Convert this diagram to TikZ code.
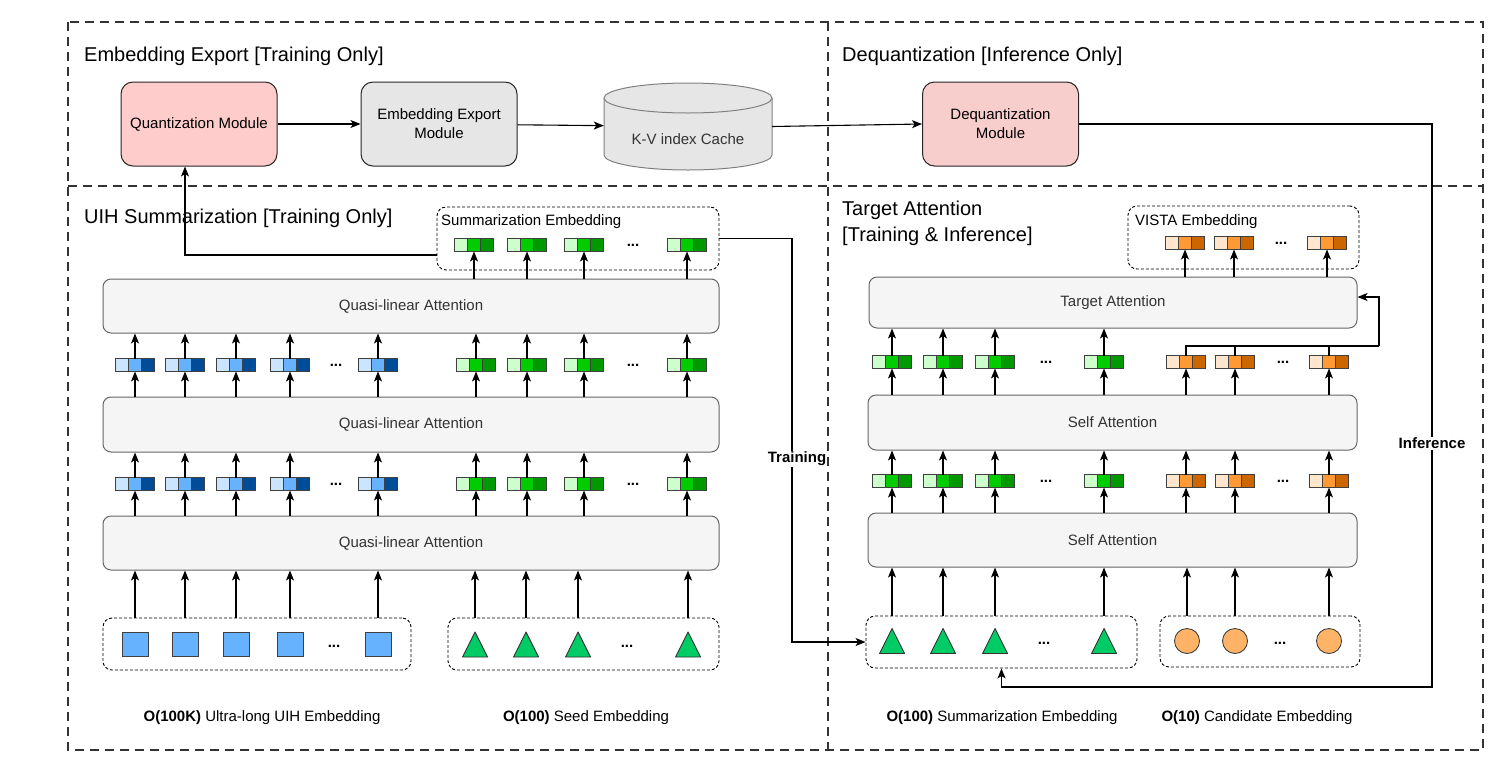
\documentclass[tikz,border=0pt]{standalone}
\usepackage{fontspec}
\setmainfont{Liberation Sans}
\usetikzlibrary{arrows.meta}
\definecolor{blueL}{HTML}{CCE5FF}
\definecolor{blueM}{HTML}{66B2FF}
\definecolor{blueD}{HTML}{004C99}
\definecolor{greenL}{HTML}{CCFFCC}
\definecolor{greenM}{HTML}{00CC00}
\definecolor{greenD}{HTML}{009900}
\definecolor{orangeL}{HTML}{FFE6CC}
\definecolor{orangeM}{HTML}{FF9933}
\definecolor{orangeD}{HTML}{CC6600}
\definecolor{pinkQ}{HTML}{FFCCCC}
\definecolor{pinkD}{HTML}{F8CECC}
\definecolor{greyBox}{HTML}{E6E6E6}
\definecolor{attFill}{HTML}{F5F5F5}
\definecolor{attLine}{HTML}{666666}
\definecolor{txt}{HTML}{333333}
\definecolor{seedG}{HTML}{00CC66}
\definecolor{candO}{HTML}{FFB366}
\tikzset{
  secline/.style={draw=black!80, line width=1.1pt, dash pattern=on 9pt off 6pt},
  sectitle/.style={anchor=west, inner sep=0pt, font=\fontsize{20}{24}\selectfont},
  lab/.style={inner sep=1pt, font=\fontsize{15}{19}\selectfont},
  modbox/.style={draw=black!85, line width=1pt, rounded corners=12pt, minimum width=156pt, minimum height=84pt, align=center, font=\fontsize{15}{19}\selectfont},
  attbox/.style={draw=attLine, fill=attFill, line width=1pt, rounded corners=8pt, text=txt, font=\fontsize{15}{19}\selectfont},
  dbox/.style={draw, line width=0.9pt, dash pattern=on 3pt off 2pt, rounded corners=9pt},
  tokcell/.style={draw=black!75, line width=0.8pt, minimum size=13pt, inner sep=0pt, outer sep=0pt},
  wire/.style={line width=1.1pt},
  conn/.style={wire, -{Stealth[length=10pt,width=8pt,inset=2.5pt]}},
  uihsq/.style={draw=black!75, fill=blueM, line width=0.9pt, minimum width=26pt, minimum height=24pt, inner sep=0pt},
  trifill/.style={draw=black!80, fill=seedG, line width=0.9pt, line join=round},
  circ/.style={circle, draw=black!75, fill=candO, line width=0.9pt, minimum size=25pt, inner sep=0pt},
  more/.style={inner sep=0pt, font=\fontsize{15}{18}\selectfont\bfseries}
}
% three-cell embedding token, named by its middle cell
\def\tok(#1,#2)#3#4{%
  \node[tokcell, fill=#3L] at (#1-13,#2) {};
  \node[tokcell, fill=#3D] at (#1+13,#2) {};
  \node[tokcell, fill=#3M] (#4) at (#1,#2) {};}
\def\seedtri(#1,#2)#3{%
  \coordinate (#3) at (#1,#2);
  \draw[trifill] (#1-12.5,#2+12.5) -- (#1,#2-12.5) -- (#1+12.5,#2+12.5) -- cycle;}

\begin{document}
\begin{tikzpicture}[x=1pt,y=-1pt]
\useasboundingbox (0,0) rectangle (1506,766);
%%%%% SECTIONS %%%%%
\draw[secline] (68,22) rectangle (1483,750);
\draw[secline] (828,22) -- (828,750);
\draw[secline] (68,186) -- (1483,186);

%%%%% EMBEDDING EXPORT / DEQUANTIZATION %%%%%
\node[sectitle] (eetitle) at (84,56) {Embedding Export [Training Only]};
\node[sectitle] (dqtitle) at (842,56) {Dequantization [Inference Only]};
\node[modbox, fill=pinkQ] (qm) at (199,124) {Quantization Module};
\node[modbox, fill=greyBox] (ee) at (439,124) {Embedding Export\\Module};
\node[modbox, fill=pinkD] (dq) at (1000.5,124) {Dequantization\\Module};
\fill[greyBox] (604,98) -- (604,155) arc[start angle=180, end angle=0, x radius=84, y radius=15] -- (772,98) -- cycle;
\draw[black!50, line width=1pt] (604,98) -- (604,155) arc[start angle=180, end angle=0, x radius=84, y radius=15] -- (772,98);
\draw[black!50, fill=greyBox, line width=1pt] (688,98) ellipse [x radius=84, y radius=15];
\node[minimum width=168pt, minimum height=87pt] (kv) at (688,126.5) {};
\node[lab, text=txt] (kvlab) at (688,139) {K-V index Cache};
\draw[conn] (qm) -- (ee);
\draw[conn] (ee) -- (kv);
\draw[conn] (kv.east) -- (dq.west);

%%%%% UIH SUMMARIZATION %%%%%
\node[sectitle] (uihtitle) at (84,218) {UIH Summarization [Training Only]};
\node[dbox, minimum width=282pt, minimum height=63pt] (se) at (578,238.5) {};
\node[lab, anchor=west] (selab) at (440,222) {Summarization Embedding};
\node[attbox, minimum width=616pt, minimum height=54pt] (qa) at (411,306) {Quasi-linear Attention};
\node[attbox, minimum width=616pt, minimum height=55pt] (qb) at (411,424.5) {Quasi-linear Attention};
\node[attbox, minimum width=616pt, minimum height=54pt] (qc) at (411,543) {Quasi-linear Attention};
\node[dbox, minimum width=308pt, minimum height=52pt] (uih) at (257,644) {};
\node[dbox, minimum width=271pt, minimum height=52pt] (seed) at (583.5,644) {};

\foreach \x [count=\i] in {474,527,584,687} {\tok(\x,245){green}{s\i} \draw[conn] (qa.north -| s\i) -- (s\i.south);}
\foreach \x [count=\i] in {135,185,236,290,378} {\tok(\x,365){blue}{a\i} \tok(\x,484){blue}{b\i}}
\foreach \x [count=\i from 6] in {476,527,584,687} {\tok(\x,365){green}{a\i} \tok(\x,484){green}{b\i}}
\foreach \i in {1,...,9} {
  \draw[conn] (qb.north -| a\i) -- (a\i.south);
  \draw[conn] (a\i.north) -- (qa.south -| a\i);
  \draw[conn] (qc.north -| b\i) -- (b\i.south);
  \draw[conn] (b\i.north) -- (qb.south -| b\i);}
\node[more] (sdots) at (633,245) {...};
\node[more] (adots1) at (336,365) {...};
\node[more] (adots2) at (633,365) {...};
\node[more] (bdots1) at (336,484) {...};
\node[more] (bdots2) at (633,484) {...};

\foreach \x [count=\i] in {135,185,236,290,378} {\node[uihsq] (u\i) at (\x,644.5) {}; \draw[conn] (uih.north -| u\i) -- (qc.south -| u\i);}
\foreach \x [count=\i] in {475,526,578,688} {\seedtri(\x,644.5){e\i} \draw[conn] (seed.north -| e\i) -- (qc.south -| e\i);}
\node[more] (udots) at (334,646) {...};
\node[more] (edots) at (627,646) {...};
\node[lab] (uihlab) at (262,718) {\textbf{O(100K)} Ultra-long UIH Embedding};
\node[lab] (seedlab) at (586,718) {\textbf{O(100)} Seed Embedding};

%%%%% TARGET ATTENTION %%%%%
\node[sectitle] (tatitle) at (842,210) {Target Attention};
\node[sectitle] (tatitle2) at (842,236) {[Training \& Inference]};
\node[dbox, minimum width=231pt, minimum height=63pt] (vista) at (1243.5,237.5) {};
\node[lab, anchor=west] (vlab) at (1134,222) {VISTA Embedding};
\node[attbox, minimum width=488pt, minimum height=51pt] (ta) at (1113,302.5) {Target Attention};
\node[attbox, minimum width=489pt, minimum height=55pt] (sa) at (1112.5,422.5) {Self Attention};
\node[attbox, minimum width=489pt, minimum height=54pt] (sb) at (1112.5,540) {Self Attention};
\node[dbox, minimum width=271pt, minimum height=52pt] (ts) at (1001.5,642) {};
\node[dbox, minimum width=200pt, minimum height=51pt] (cand) at (1260,641.5) {};

\foreach \x [count=\i] in {1185,1234,1327} {\tok(\x,243){orange}{v\i} \draw[conn] (ta.north -| v\i) -- (v\i.south);}
\foreach \x [count=\i] in {892,943,995,1104} {\tok(\x,362){green}{c\i} \tok(\x,481){green}{d\i}}
\foreach \x [count=\i from 5] in {1186,1235,1329} {\tok(\x,362){orange}{c\i} \tok(\x,481){orange}{d\i}}
\foreach \i in {1,...,7} {
  \draw[conn] (sa.north -| c\i) -- (c\i.south);
  \draw[conn] (sb.north -| d\i) -- (d\i.south);
  \draw[conn] (d\i.north) -- (sa.south -| d\i);}
\foreach \i in {1,...,4} {\draw[conn] (c\i.north) -- (ta.south -| c\i);}
\coordinate (fb) at (1379,346);
\draw[wire] (c5.north) |- (fb);
\draw[wire] (c6.north) -- (c6.north |- fb);
\draw[wire] (c7.north) -- (c7.north |- fb);
\draw[conn] (fb) |- ([yshift=5.5pt]ta.east);
\node[more] (vdots) at (1281,243) {...};
\node[more] (cdots1) at (1046,362) {...};
\node[more] (cdots2) at (1283,362) {...};
\node[more] (ddots1) at (1046,481) {...};
\node[more] (ddots2) at (1283,481) {...};

\foreach \x [count=\i] in {892,943,995,1104} {\seedtri(\x,641){f\i} \draw[conn] (ts.north -| f\i) -- (sb.south -| f\i);}
\foreach \x [count=\i] in {1187,1235,1329} {\node[circ] (g\i) at (\x,641) {}; \draw[conn] (cand.north -| g\i) -- (sb.south -| g\i);}
\node[more] (fdots) at (1044,643) {...};
\node[more] (gdots) at (1280,643) {...};
\node[lab] (tslab) at (1002,718) {\textbf{O(100)} Summarization Embedding};
\node[lab] (candlab) at (1257,718) {\textbf{O(10)} Candidate Embedding};

%%%%% TRAINING / INFERENCE PATHS %%%%%
\coordinate (qin) at (185,255);
\draw[conn] (se.west |- qin) -- (qin) -- (qin |- qm.south);
\coordinate (trc) at (792,642);
\draw[conn] (se.east) -| (trc) -- (ts.west);
\coordinate (infc) at (1432,687);
\draw[conn] (dq.east) -| (infc) -| (ts.south);
\node[lab, fill=white] (trlab) at (797,459) {\textbf{Training}};
\node[lab, fill=white] (inflab) at (1432,443) {\textbf{Inference}};
\end{tikzpicture}
\end{document}
